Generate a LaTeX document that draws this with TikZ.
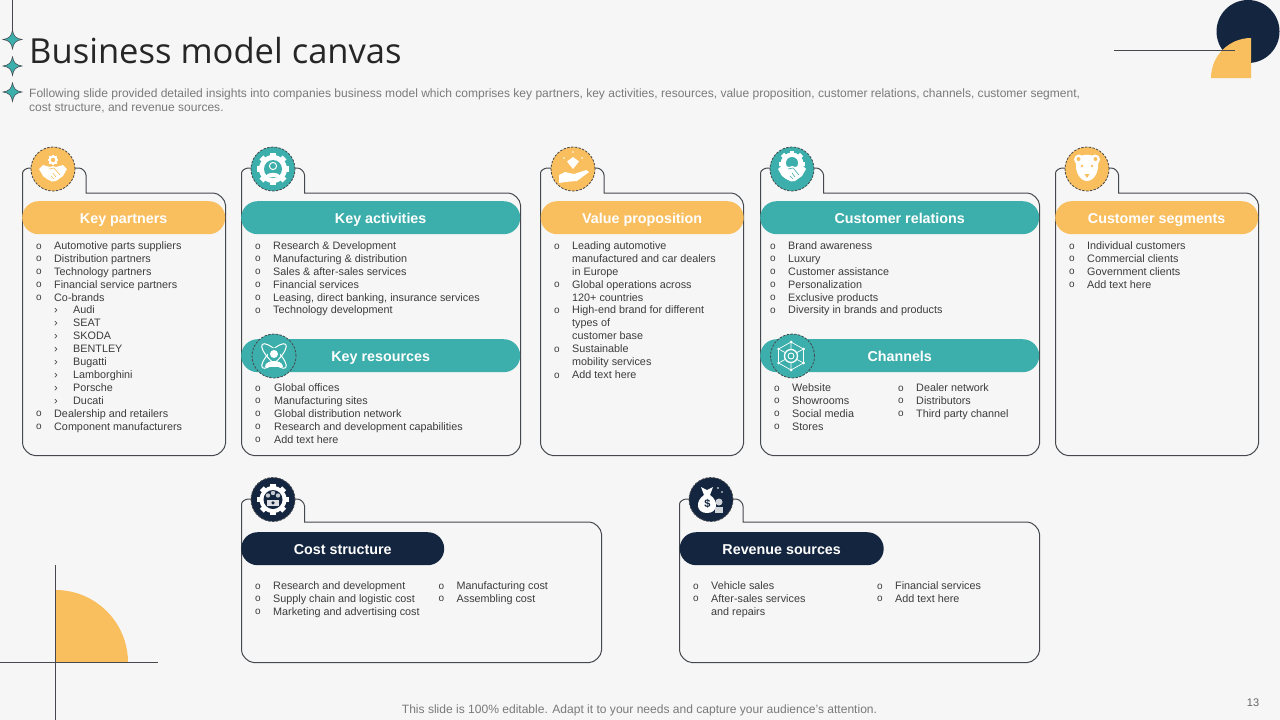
\documentclass[tikz,border=0pt]{standalone}
\usepackage{fontspec}
\setmainfont{Liberation Sans}
\newfontfamily\titlefont{Open Sans}
\usepackage{tikz}
\usetikzlibrary{positioning, calc}

\definecolor{pagebg}{HTML}{F6F6F6}
\definecolor{cardorange}{HTML}{F9BE5E}
\definecolor{cardteal}{HTML}{3CAEAB}
\definecolor{cardnavy}{HTML}{14263F}
\definecolor{cardline}{HTML}{45484D}
\definecolor{bodytext}{HTML}{3C3C3C}

% list rows
\newcommand{\bu}{\makebox[18pt][l]{\raisebox{0.4pt}{\fontsize{10}{10}\selectfont o}}}
\newcommand{\bw}{\makebox[19pt][l]{\raisebox{0.4pt}{\fontsize{10}{10}\selectfont o}}}
\newcommand{\su}{\hspace*{18pt}\makebox[19pt][l]{\fontsize{11}{11}\selectfont ›}}
\newcommand{\nb}{\hspace*{18pt}}

% card outline with its tab: left, right, tab right, tab top, shelf, bottom
\newcommand{\cardoutline}[6]{%
  \draw[cardedge] (#1,#5) -- (#1,#4+5) to[out=90,in=180,looseness=0.8] (#1+7,#4) -- (#3-7,#4)
    to[out=0,in=90,looseness=0.8] (#3,#4+7) -- (#3,#5) -- (#2-12,#5)
    to[out=0,in=90,looseness=0.8] (#2,#5+12) -- (#2,#6-12)
    to[out=-90,in=0,looseness=0.8] (#2-12,#6) -- (#1+12,#6)
    to[out=180,in=-90,looseness=0.8] (#1,#6-12) -- cycle;}

% small gear
\newcommand{\icongear}[4]{% x, y, radius, colour
  \fill[#4] (#1,#2) circle[radius=#3 pt];
  \foreach \a in {0,45,...,315}
    \fill[#4, shift={(#1,#2)}, rotate=\a] (-0.2*#3,#3*0.85) rectangle (0.2*#3,#3*1.17);}

% handshake
\newcommand{\iconshake}[3]{% x, y, colour behind
  \begin{scope}[shift={(#1,#2)}]
    \fill[white] (-14,-3) -- (-10,-7) -- (-3,-5) -- (0,-6) -- (3,-5) -- (10,-7) -- (14,-3) -- (10,4)
      -- (3,9) -- (-1,9.5) -- (-6,7) -- (-10,4) -- cycle;
    \draw[#3, line width=0.6pt] (-4,-3) -- (1,-4) -- (7,3) (-2,4) -- (1,7) (0,1) -- (3,5);
  \end{scope}}

\begin{document}
\begin{tikzpicture}[
  x=1pt, y=-1pt,
  node distance=6pt,
  cardedge/.style={draw=cardline, line width=1pt},
  banner/.style={rounded corners=16.5pt, minimum height=33pt, inner sep=0pt, text=white, text height=14pt, text depth=3pt, font=\fontsize{14.3}{16}\selectfont\bfseries},
  iconbase/.style={circle, minimum size=44pt, inner sep=0pt, draw=cardline, dashed, line width=0.8pt, dash pattern=on 2.4pt off 1.4pt},
  itemlist/.style={anchor=north west, inner sep=0pt, align=left, text=bodytext, font=\fontsize{10.8}{12.9}\selectfont},
  deco/.style={draw=cardline, line width=0.9pt}
]
  \useasboundingbox (0,0) rectangle (1280,720);
  \fill[pagebg] (0,0) rectangle (1280,720);

  % corners
  \fill[cardnavy] (1248,31.5) circle[radius=31.5pt];
  \fill[cardorange] (1211,78) arc[start angle=180, end angle=90, radius=40pt] -- (1251,78) -- cycle;
  \draw[deco] (1114,50.5) -- (1235,50.5);
  \fill[cardorange] (55.5,590) arc[start angle=90, end angle=0, radius=72.5pt] -- (55.5,662.5) -- cycle;
  \draw[deco] (55.5,565) -- (55.5,720);
  \draw[deco] (0,662.5) -- (158,662.5);
  \draw[deco] (12.5,0) -- (12.5,32);
  \foreach \y in {39.5,66,92}
    \draw[cardline, fill=cardteal, line width=0.5pt, shift={(12.5,\y)}] (0,-9.5) .. controls (0.8,-3.5) and (3.5,-0.8) .. (9.5,0)
      .. controls (3.5,0.8) and (0.8,3.5) .. (0,9.5) .. controls (-0.8,3.5) and (-3.5,0.8) .. (-9.5,0)
      .. controls (-3.5,-0.8) and (-0.8,-3.5) .. (0,-9.5);

  % heading
  \node[anchor=west, inner sep=0pt, text=black!85, font=\titlefont\fontsize{34.55}{40}\selectfont] (heading) at (29,51) {Business model canvas};
  \node[anchor=north west, inner sep=0pt, align=left, text=black!52, font=\fontsize{12.02}{14.2}\selectfont] (intro) at (29,88.7)
    {Following slide provided detailed insights into companies business model which comprises key partners, key activities, resources, value proposition, customer relations, channels, customer segment,\\ cost structure, and revenue sources.};

  % cards
  \cardoutline{22.5}{225.5}{86}{168}{193}{455.5}
  \cardoutline{241.5}{520.5}{304.5}{168}{193}{455.5}
  \cardoutline{540.5}{743.5}{604}{168}{193}{455.5}
  \cardoutline{760.5}{1039.5}{823.5}{168}{193}{455.5}
  \cardoutline{1055.5}{1258.5}{1118.5}{168}{193}{455.5}
  \cardoutline{241.5}{601.5}{304.5}{499}{522}{662.5}
  \cardoutline{679.5}{1039.5}{743}{499}{522}{662.5}

  % banners
  \node[banner, fill=cardorange, minimum width=203pt, anchor=north west] (partners) at (22,201) {Key partners};
  \node[banner, fill=cardteal, minimum width=279pt, anchor=north west] (activities) at (241,201) {Key activities};
  \node[banner, fill=cardorange, minimum width=203pt, anchor=north west] (value) at (540.5,201) {Value proposition};
  \node[banner, fill=cardteal, minimum width=279pt, anchor=north west] (relations) at (760,201) {Customer relations};
  \node[banner, fill=cardorange, minimum width=203pt, anchor=north west] (segments) at (1055,201) {Customer segments};
  \node[banner, fill=cardteal, minimum width=279pt, anchor=north west] (resources) at (241,339) {Key resources};
  \node[banner, fill=cardteal, minimum width=279pt, anchor=north west] (channels) at (760,339) {Channels};
  \node[banner, fill=cardnavy, minimum width=203pt, anchor=north west] (cost) at (241,532) {Cost structure};
  \node[banner, fill=cardnavy, minimum width=204pt, anchor=north west] (revenue) at (679.5,532) {Revenue sources};

  % lists
  \node[below=7pt of partners.south west, itemlist, xshift=14pt] (partnerlist) {\bu Automotive parts suppliers\\ \bu Distribution partners\\ \bu Technology partners\\ \bu Financial service partners\\ \bu Co-brands\\ \su Audi\\ \su SEAT\\ \su SKODA\\ \su BENTLEY\\ \su Bugatti\\ \su Lamborghini\\ \su Porsche\\ \su Ducati\\ \bu Dealership and retailers\\ \bu Component manufacturers};
  \node[below=7pt of activities.south west, itemlist, xshift=14pt] (activitylist) {\bu Research \& Development\\ \bu Manufacturing \& distribution\\ \bu Sales \& after-sales services\\ \bu Financial services\\ \bu Leasing, direct banking, insurance services\\ \bu Technology development};
  \node[below=7pt of value.south west, itemlist, xshift=13.5pt] (valuelist) {\bu Leading automotive\\ \nb manufactured and car dealers\\ \nb in Europe\\ \bu Global operations across\\ \nb 120+ countries\\ \bu High-end brand for different\\ \nb types of\\ \nb customer base\\ \bu Sustainable\\ \nb mobility services\\ \bu Add text here};
  \node[below=7pt of relations.south west, itemlist, xshift=10pt] (relationlist) {\bu Brand awareness\\ \bu Luxury\\ \bu Customer assistance\\ \bu Personalization\\ \bu Exclusive products\\ \bu Diversity in brands and products};
  \node[below=7pt of segments.south west, itemlist, xshift=14pt] (segmentlist) {\bu Individual customers\\ \bu Commercial clients\\ \bu Government clients\\ \bu Add text here};
  \node[below=11pt of resources.south west, itemlist, xshift=14pt] (resourcelist) {\bw Global offices\\ \bw Manufacturing sites\\ \bw Global distribution network\\ \bw Research and development capabilities\\ \bw Add text here};
  \node[below=11pt of channels.south west, itemlist, xshift=14pt] (channellist) {\bu Website\\ \bu Showrooms\\ \bu Social media\\ \bu Stores};
  \node[below=11pt of channels.south west, itemlist, xshift=138pt] (channellisttwo) {\bu Dealer network\\ \bu Distributors\\ \bu Third party channel};
  \node[below=16pt of cost.south west, itemlist, xshift=14pt] (costlist) {\bu Research and development\\ \bu Supply chain and logistic cost\\ \bu Marketing and advertising cost};
  \node[below=16pt of cost.south west, itemlist, xshift=197.5pt] (costlisttwo) {\bu Manufacturing cost\\ \bu Assembling cost};
  \node[below=16pt of revenue.south west, itemlist, xshift=13.5pt] (revenuelist) {\bu Vehicle sales\\ \bu After-sales services\\ \nb and repairs};
  \node[below=16pt of revenue.south west, itemlist, xshift=197.5pt] (revenuelisttwo) {\bu Financial services\\ \bu Add text here};

  % icon discs
  \node[iconbase, fill=cardorange] (partnersicon) at (53,169) {};
  \node[iconbase, fill=cardteal] (activitiesicon) at (273,169) {};
  \node[iconbase, fill=cardorange] (valueicon) at (573,169) {};
  \node[iconbase, fill=cardteal] (relationsicon) at (792,169) {};
  \node[iconbase, fill=cardorange] (segmentsicon) at (1087,169) {};
  \node[iconbase, fill=cardteal] (resourcesicon) at (274,356) {};
  \node[iconbase, fill=cardteal] (channelsicon) at (792.5,356) {};
  \node[iconbase, fill=cardnavy] (costicon) at (273,499.5) {};
  \node[iconbase, fill=cardnavy] (revenueicon) at (711,499.5) {};

  % icon glyphs
  \iconshake{53}{172}{cardorange}
  \icongear{53}{160}{4.5}{white}
  \fill[cardorange] (53,160) circle[radius=2.2pt];
  \icongear{273}{169}{14}{white}
  \fill[cardteal] (273,169) circle[radius=9pt];
  \draw[white, line width=1pt] (273,166) circle[radius=3.6pt];
  \fill[white] (265.5,177) .. controls (266,171.5) and (280,171.5) .. (280.5,177) -- cycle;
  \fill[white] (573,157) -- (579,161.5) -- (573,169) -- (567,161.5) -- cycle;
  \fill[white] (559,175) -- (565,172) -- (574,174) -- (586,170) -- (589,172) -- (577,181) -- (565,182) -- (559,183) -- cycle;
  \fill[white] (564,158) circle[radius=0.9pt] (582,158) circle[radius=0.9pt] (573,152) circle[radius=0.9pt];
  \icongear{792}{164}{11.5}{white}
  \fill[cardteal] (792,163) circle[radius=6pt];
  \iconshake{792}{172}{cardteal}
  % bear
  \fill[white] (1079,159.5) circle[radius=5pt] (1095,159.5) circle[radius=5pt];
  \fill[white] (1076,163) .. controls (1076,152) and (1098,152) .. (1098,163) .. controls (1099,172) and (1094,181) .. (1087,181) .. controls (1080,181) and (1075,172) .. (1076,163) -- cycle;
  \fill[cardorange] (1082,166) circle[radius=1.3pt] (1092,166) circle[radius=1.3pt] (1078.5,159) circle[radius=2pt] (1095.5,159) circle[radius=2pt];
  \fill[cardorange] (1084.5,174) -- (1089.5,174) -- (1087,178) -- cycle;
  % atom
  \draw[white, line width=1pt, rotate around={45:(274,356)}] (274,356) ellipse[x radius=5.5pt, y radius=16.5pt];
  \draw[white, line width=1pt, rotate around={-45:(274,356)}] (274,356) ellipse[x radius=5.5pt, y radius=16.5pt];
  \fill[cardteal] (274,354) circle[radius=6pt];
  \fill[white] (274,354) circle[radius=4pt];
  \fill[white] (265,367) .. controls (265,358.5) and (283,358.5) .. (283,367) -- cycle;
  % network
  \draw[white, line width=0.7pt] (791,342) -- (803.5,349) -- (803.5,363) -- (791,370) -- (778.5,363) -- (778.5,349) -- cycle;
  \draw[white, line width=0.7pt] (791,342) -- (791,349) (803.5,349) -- (797,352.5) (803.5,363) -- (797,359.5) (791,370) -- (791,363) (778.5,363) -- (785,359.5) (778.5,349) -- (785,352.5);
  \draw[white, line width=1.3pt] (791,356) circle[radius=6.5pt];
  \draw[white, line width=0.9pt] (791,356) circle[radius=3pt];
  \foreach \a/\b in {791/342,803.5/349,803.5/363,791/370,778.5/363,778.5/349}
    \fill[white] (\a,\b) circle[radius=1.5pt];
  % cost gear
  \icongear{273}{499.5}{13.5}{white}
  \fill[cardnavy] (273,499.5) circle[radius=9.5pt];
  \fill[white!75!cardnavy] (268,495.5) circle[radius=2.2pt] (273,493) circle[radius=2.2pt] (278,495.5) circle[radius=2.2pt];
  \fill[white!85!cardnavy] (267,499.5) rectangle (279,506);
  \fill[cardnavy] (273,502.8) circle[radius=1.8pt];
  % money bag
  \fill[white] (701,487) -- (707,490) -- (713,487) -- (710,495) .. controls (719,501) and (718,513) .. (707,513) .. controls (696,513) and (695,501) .. (704,495) -- cycle;
  \node[inner sep=0pt, text=cardnavy, font=\fontsize{11}{11}\selectfont\bfseries] (moneymark) at (707.5,504) {\$};
  \fill[white!80!cardnavy] (715,507) rectangle (723,513);
  \fill[white!80!cardnavy] (719,502) circle[radius=3.5pt];
  \fill[white] (718,488) circle[radius=0.8pt] (722,492) circle[radius=0.8pt];

  % foot
  \node[inner sep=0pt, text=black!52, font=\fontsize{12.05}{14}\selectfont] (footnote) at (639.5,710.5) {This slide is 100\% editable. Adapt it to your needs and capture your audience’s attention.};
  \node[inner sep=0pt, text=black!60, font=\fontsize{11}{13}\selectfont] (pagenum) at (1253,703) {13};
\end{tikzpicture}
\end{document}
